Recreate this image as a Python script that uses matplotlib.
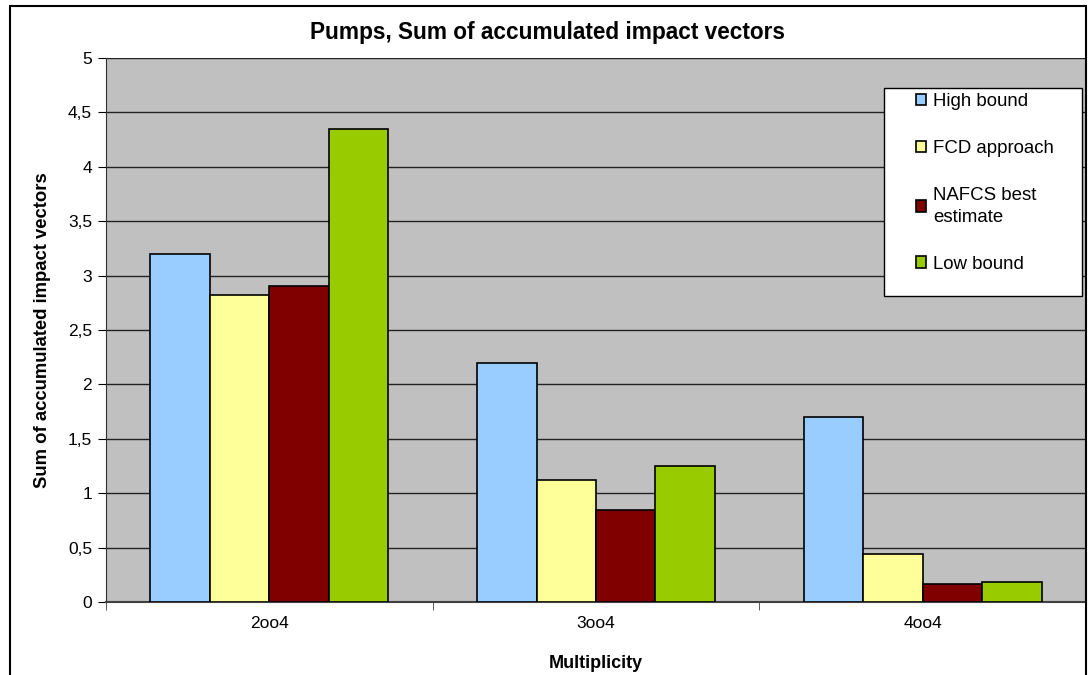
import numpy as np
import matplotlib.pyplot as plt
from matplotlib.patches import Rectangle

plt.rcParams['font.family'] = ['Liberation Sans', 'DejaVu Sans']

# Datos
categorias = ['2oo4', '3oo4', '4oo4']
series = ['High bound', 'FCD approach', 'NAFCS best\nestimate', 'Low bound']
high_bound = [3.2, 2.2, 1.7]
fcd_approach = [2.82, 1.12, 0.44]
nafcs_best = [2.9, 0.85, 0.17]
low_bound = [4.35, 1.25, 0.18]
valores_y = [0, 0.5, 1, 1.5, 2, 2.5, 3, 3.5, 4, 4.5, 5]
etiquetas_y = ['0', '0,5', '1', '1,5', '2', '2,5', '3', '3,5', '4', '4,5', '5']

colores = ['#99CCFF', '#FFFF99', '#800000', '#99CC00']

fig = plt.figure(figsize=(10.9, 6.75), dpi=100)
ax = fig.add_axes([106 / 1090, 73 / 675, 980 / 1090, 544 / 675])
ax.set_facecolor('#C0C0C0')

x = np.arange(len(categorias))
ancho = 0.182
datos = [high_bound, fcd_approach, nafcs_best, low_bound]
for i, (vals, col, nombre) in enumerate(zip(datos, colores, series)):
    ax.bar(x + (i - 1.5) * ancho, vals, ancho, color=col, edgecolor='black',
           linewidth=1.2, label=nombre, zorder=3)

ax.set_xlim(-0.5, 2.5)
ax.set_ylim(0, 5)
ax.set_yticks(valores_y)
ax.set_yticklabels(etiquetas_y, fontsize=12.5)
ax.set_xticks(x)
ax.set_xticklabels(categorias, fontsize=12.5)
ax.tick_params(axis='x', length=0, pad=10)
ax.set_xticks([-0.5, 0.5, 1.5, 2.5], minor=True)
ax.tick_params(axis='x', which='minor', length=6, color='#404040')
ax.tick_params(axis='y', length=6, direction='out', pad=4)
ax.grid(axis='y', color='#222222', linewidth=1, zorder=0)
ax.set_axisbelow(True)

for lado in ['top', 'right']:
    ax.spines[lado].set_visible(False)
ax.spines['left'].set_color('#303030')
ax.spines['bottom'].set_color('#404040')
ax.spines['bottom'].set_linewidth(1.5)

# Título centrado en el área del gráfico
fig.text(547.5 / 1090, 1 - 32 / 675, 'Pumps, Sum of accumulated impact vectors',
         fontsize=16.3, fontweight='bold', ha='center', va='center')
ax.set_xlabel('Multiplicity', fontsize=13, fontweight='bold', labelpad=17)
ax.set_ylabel('Sum of accumulated impact vectors', fontsize=13.3,
              fontweight='bold', labelpad=12)

# Leyenda con recuadro propio
x0 = (884 - 106) / 980
y1 = (602 - 88) / 544
y0 = (602 - 296) / 544
ax.add_patch(Rectangle((x0, y0), (1082 - 884) / 980, y1 - y0,
                       transform=ax.transAxes, facecolor='white',
                       edgecolor='black', linewidth=1, zorder=5))
leg = ax.legend(loc='upper left', bbox_to_anchor=((916 - 106) / 980, (602 - 93) / 544),
                frameon=False, fontsize=13.4, handlelength=0.55, handleheight=0.55,
                handletextpad=0.35, labelspacing=1.6, borderaxespad=0, borderpad=0)
for t in leg.get_texts():
    t.set_linespacing(1.4)
leg.set_zorder(6)

# Marco del gráfico
fig.add_artist(Rectangle((9.5 / 1090, -0.05), (1086 - 9.5) / 1090, 1.05 - 5.5 / 675,
                         transform=fig.transFigure, fill=False,
                         edgecolor='black', linewidth=1.5))

plt.savefig('out.png', dpi=100)
